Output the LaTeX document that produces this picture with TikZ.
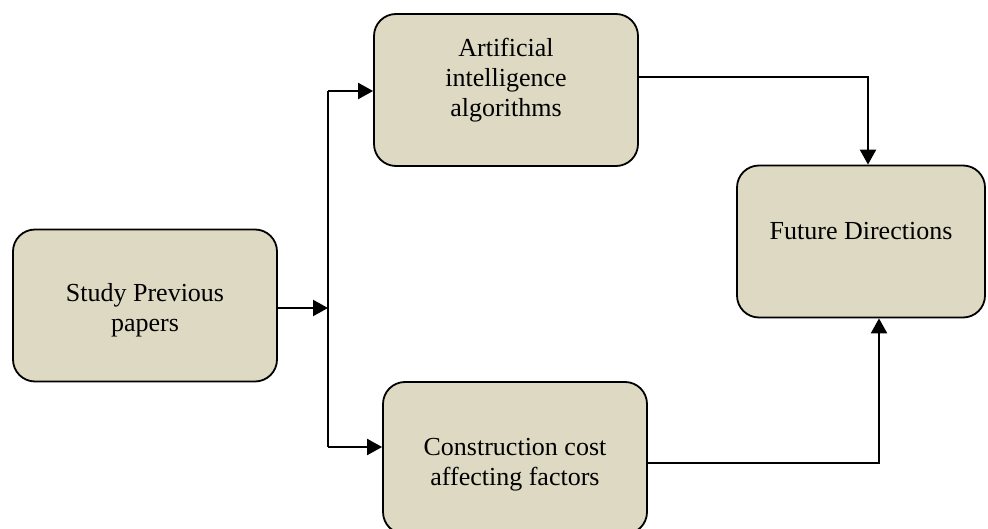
\documentclass[tikz,border=0pt]{standalone}
\usepackage{fontspec}
\setmainfont{Liberation Serif}
\usepackage{tikz}
\usetikzlibrary{positioning,arrows.meta}

\definecolor{boxfill}{HTML}{DDD9C3}

\begin{document}
\begin{tikzpicture}[x=1pt,y=-1pt,
    stage/.style={rectangle, draw, line width=1.8pt, rounded corners=22pt, fill=boxfill,
        minimum width=264pt, minimum height=152pt, inner sep=0pt},
    caption/.style={align=center, font=\fontsize{26}{30}\selectfont},
    flow/.style={line width=2.2pt, -{Triangle[length=15pt,width=16pt]}},
    link/.style={line width=2.2pt}]
\useasboundingbox (0,0) rectangle (988,529);
%% Nodes definition
\node[stage, label={[caption, yshift=-5pt]center:{Study Previous\\papers}}] (study) at (145,305.5) {};
\node[stage, label={[caption, yshift=10pt]center:{Artificial\\intelligence\\algorithms}}] (ai) at (506,90) {};
\node[stage, minimum width=248pt, label={[caption, yshift=10pt]center:{Future Directions}}] (future) at (861,241.5) {};
\node[stage, label={[caption, yshift=-7pt]center:{Construction cost\\affecting factors}}] (cost) at (515,458) {};

%% Edges definition
\coordinate (split) at (328,308);
\coordinate (toai) at (328,91);
\coordinate (tocost) at (328,447);
\coordinate (aiout) at (868,77);
\coordinate (costout) at (879,463);
\draw[flow] (study.east |- split) -- (split);
\draw[link] (toai) -- (tocost);
\draw[flow] (toai) -- (toai -| ai.west);
\draw[flow] (tocost) -- (tocost -| cost.west);
\draw[flow] (aiout -| ai.east) -- (aiout) -- (aiout |- future.north);
\draw[flow] (costout -| cost.east) -- (costout) -- (costout |- future.south);
\end{tikzpicture}
\end{document}
